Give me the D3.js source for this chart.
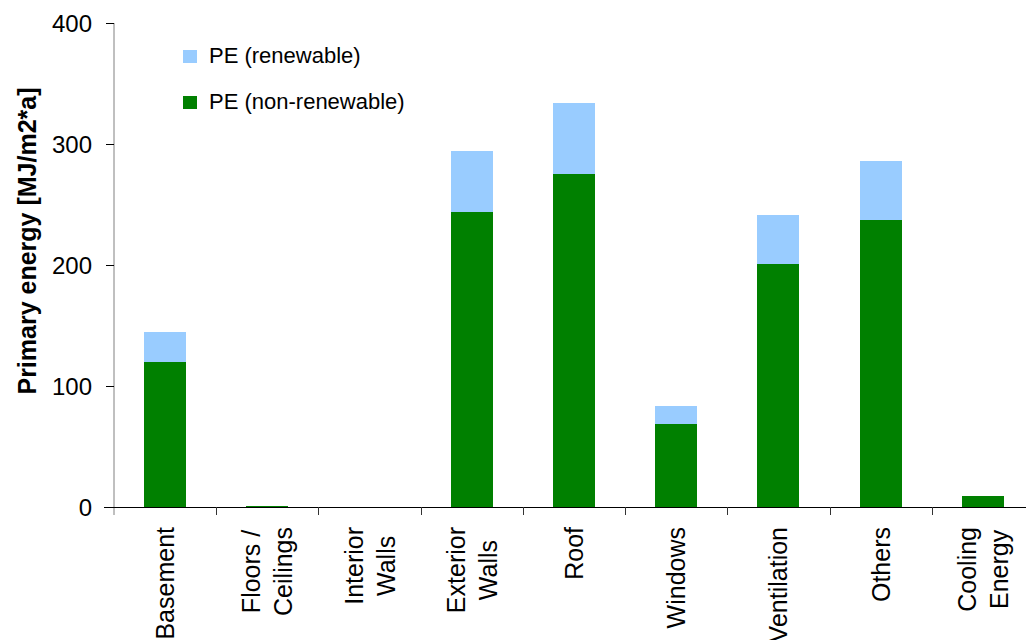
<!DOCTYPE html>
<html>
<head>
<meta charset="utf-8">
<script src="https://cdn.jsdelivr.net/npm/d3@7"></script>
<style>
  html, body { margin: 0; padding: 0; background: #fff; }
  svg { display: block; font-family: Arial, "Liberation Sans", sans-serif; }
</style>
</head>
<body>
<svg id="chart" width="1026" height="640"></svg>
<script>
// Building components (label lines per category)
const categories = [
  ["Basement"],
  ["Floors /", "Ceilings"],
  ["Interior", "Walls"],
  ["Exterior", "Walls"],
  ["Roof"],
  ["Windows"],
  ["Ventilation"],
  ["Others"],
  ["Cooling", "Energy"]
];
// Primary energy in MJ/m2*a
const nonRenewable = [120, 1, 0, 244, 275.5, 68.5, 200.5, 237.5, 9];
const renewable    = [24.5, 0, 0, 50.5, 58.5, 15, 41, 48.5, 0];
const yTicks = [0, 100, 200, 300, 400];
const seriesNames = ["PE (renewable)", "PE (non-renewable)"];
const seriesColors = ["#99CCFF", "#008000"];
const yTitle = "Primary energy [MJ/m2*a]";

const svg = d3.select("#chart");
const plotLeft = 114, plotRight = 1034, plotTop = 23, plotBottom = 507;

const keys = categories.map(c => c.join(" "));
const x = d3.scaleBand().domain(keys).range([plotLeft, plotRight]).paddingInner(0.59).paddingOuter(0.295);
const xTicksScale = d3.scaleBand().domain(keys).range([plotLeft, plotRight]);
const y = d3.scaleLinear().domain([0, 400]).range([plotBottom, plotTop]);

const rows = keys.map((k, i) => ({ key: k, nonRenewable: nonRenewable[i], renewable: renewable[i] }));
const stack = d3.stack().keys(["nonRenewable", "renewable"]);
const layers = stack(rows);
const layerColor = { nonRenewable: seriesColors[1], renewable: seriesColors[0] };

svg.append("g").selectAll("g")
  .data(layers)
  .join("g")
  .attr("fill", d => layerColor[d.key])
  .selectAll("rect")
  .data(d => d)
  .join("rect")
  .attr("x", d => x(d.data.key))
  .attr("width", x.bandwidth())
  .attr("y", d => y(d[1]))
  .attr("height", d => y(d[0]) - y(d[1]))
  .attr("shape-rendering", "crispEdges");

// Y axis
const yAxis = svg.append("g")
  .attr("transform", `translate(${plotLeft},0)`)
  .call(d3.axisLeft(y).tickValues(yTicks).tickSize(8).tickPadding(14).tickSizeOuter(0));
yAxis.select(".domain").attr("stroke", "#808080").attr("d", `M0,${plotTop}V${plotBottom + 8}`);
yAxis.selectAll(".tick line").attr("stroke", "#000");
yAxis.selectAll(".tick text")
  .attr("font-size", 24).attr("fill", "#000")
  .attr("font-family", "Arial, 'Liberation Sans', sans-serif")
  .attr("dy", "0.36em");

// X axis line with ticks at category boundaries
const xg = svg.append("g");
xg.append("line")
  .attr("x1", plotLeft - 10).attr("x2", 1026)
  .attr("y1", plotBottom + 0.5).attr("y2", plotBottom + 0.5)
  .attr("stroke", "#000");
xg.selectAll("line.tk")
  .data(keys.slice(1))
  .join("line")
  .attr("class", "tk")
  .attr("x1", d => Math.round(xTicksScale(d)) + 0.5)
  .attr("x2", d => Math.round(xTicksScale(d)) + 0.5)
  .attr("y1", plotBottom).attr("y2", plotBottom + 8)
  .attr("stroke", "#333");

// Rotated category labels
const labelTop = 527, lineGap = 32, fs = 25;
categories.forEach((lines, i) => {
  const cx = xTicksScale(keys[i]) + xTicksScale.bandwidth() / 2;
  const g = svg.append("g").attr("transform", `translate(${cx},${labelTop}) rotate(-90)`);
  const texts = lines.map((t, j) => g.append("text")
    .attr("font-size", fs)
    .attr("fill", "#000")
    .attr("text-anchor", "middle")
    .attr("y", (j - (lines.length - 1) / 2) * lineGap + fs * 0.36)
    .text(t));
  const maxLen = d3.max(texts, t => t.node().getComputedTextLength());
  texts.forEach(t => t.attr("x", -maxLen / 2));
});

// Y axis title
svg.append("text")
  .attr("transform", "translate(36,241) rotate(-90)")
  .attr("text-anchor", "middle")
  .attr("font-size", 25)
  .attr("font-weight", "bold")
  .attr("fill", "#000")
  .text(yTitle);

// Legend
const legendItems = [
  { name: seriesNames[0], color: seriesColors[0], y: 50 },
  { name: seriesNames[1], color: seriesColors[1], y: 96 }
];
const lg = svg.append("g");
lg.selectAll("rect")
  .data(legendItems)
  .join("rect")
  .attr("x", 183).attr("y", d => d.y)
  .attr("width", 14).attr("height", 13)
  .attr("fill", d => d.color);
lg.selectAll("text")
  .data(legendItems)
  .join("text")
  .attr("x", 209).attr("y", d => d.y + 13)
  .attr("font-size", 22)
  .attr("fill", "#000")
  .text(d => d.name);
</script>
</body>
</html>
